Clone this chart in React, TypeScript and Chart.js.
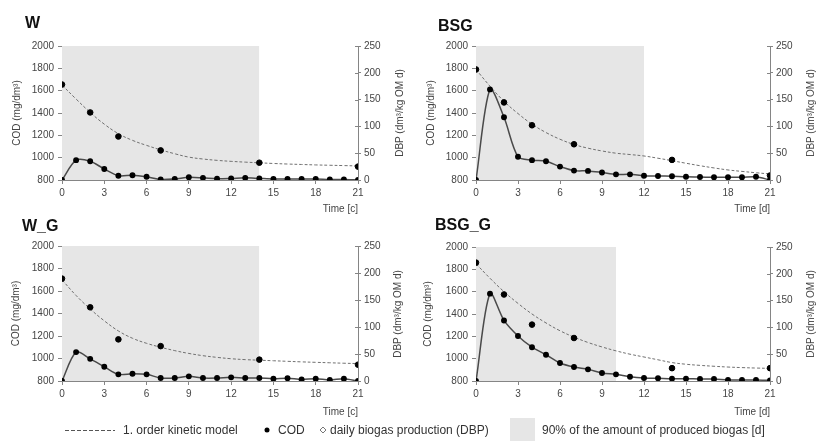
import React, { useEffect, useRef } from 'react';
import { Chart, registerables } from 'chart.js';

Chart.register(...registerables);
Chart.defaults.font.family = "'Liberation Sans', Arial, sans-serif";

// ---- data ----
const DAYS = [0, 1, 2, 3, 4, 5, 6, 7, 8, 9, 10, 11, 12, 13, 14, 15, 16, 17, 18, 19, 20, 21];
const COD_DAYS = [0, 2, 4, 7, 14, 21];
const X_TICKS = [0, 3, 6, 9, 12, 15, 18, 21];
const COD_TICKS = [800, 1000, 1200, 1400, 1600, 1800, 2000];
const DBP_TICKS = [0, 50, 100, 150, 200, 250];

const W_COD = [1655, 1405, 1190, 1065, 955, 920];
const W_MODEL = [1650, 1525, 1405, 1300, 1215, 1155, 1110, 1070, 1035, 1005, 988, 976, 967, 960, 954, 948, 943, 939, 935, 932, 929, 926];
const W_DBP = [0, 37, 35, 20.5, 8, 9, 6, 1, 2, 5, 4, 2.5, 3, 4, 3, 2, 2, 2, 2, 1, 1, 0];
const W_SHADE = 14;

const BSG_COD = [1790, 1495, 1290, 1120, 980, 840];
const BSG_MODEL = [1790, 1640, 1505, 1395, 1300, 1225, 1165, 1118, 1085, 1060, 1040, 1028, 1015, 995, 973, 950, 928, 908, 890, 877, 865, 854];
const BSG_DBP = [0, 169, 117, 43.5, 37, 35, 25, 17.5, 17, 14, 10.5, 10.5, 8, 7.5, 7, 6, 5.6, 5, 5, 5, 6, 0];
const BSG_SHADE = 12;

const WG_COD = [1710, 1455, 1170, 1110, 990, 945];
const WG_MODEL = [1700, 1560, 1440, 1335, 1245, 1180, 1135, 1100, 1070, 1045, 1025, 1010, 998, 990, 985, 980, 975, 970, 966, 962, 958, 955];
const WG_DBP = [0, 53.5, 41, 26.5, 12.3, 13.5, 12.3, 5.5, 5.5, 8.6, 5.5, 5.5, 6.8, 5.5, 5.5, 4.3, 5, 3, 4.3, 2, 4.3, 0];
const WG_SHADE = 14;

const BSGG_COD = [1860, 1575, 1305, 1185, 915, 915];
const BSGG_MODEL = [1850, 1720, 1600, 1495, 1400, 1320, 1250, 1193, 1145, 1105, 1070, 1040, 1015, 990, 965, 950, 940, 932, 925, 920, 916, 913];
const BSGG_DBP = [0, 163, 113, 84, 63, 49, 33.5, 26, 21.7, 15, 12.4, 8, 5.6, 5, 4.3, 4.3, 3.7, 3.7, 1.9, 1.9, 1.9, 1.2];
const BSGG_SHADE = 10;

// ---- layout ----
const PANELS = [
  { title: 'W', xTitle: 'Time [c]', cod: W_COD, model: W_MODEL, dbp: W_DBP, shade: W_SHADE,
    cl: 0, ct: 0, cw: 408, ch: 220, aL: 62, aR: 358, aT: 46, aB: 180, leftTitle: 17, rightTitle: 400, titleX: 25, titleY: 14, xTitlePad: 5 },
  { title: 'BSG', xTitle: 'Time [d]', cod: BSG_COD, model: BSG_MODEL, dbp: BSG_DBP, shade: BSG_SHADE,
    cl: 408, ct: 0, cw: 408, ch: 220, aL: 476, aR: 770, aT: 46, aB: 180, leftTitle: 23, rightTitle: 811, titleX: 438, titleY: 17, xTitlePad: 5 },
  { title: 'W_G', xTitle: 'Time [c]', cod: WG_COD, model: WG_MODEL, dbp: WG_DBP, shade: WG_SHADE,
    cl: 0, ct: 200, cw: 408, ch: 222, aL: 62, aR: 358, aT: 246, aB: 381, leftTitle: 16, rightTitle: 398, titleX: 22, titleY: 217, xTitlePad: 4 },
  { title: 'BSG_G', xTitle: 'Time [d]', cod: BSGG_COD, model: BSGG_MODEL, dbp: BSGG_DBP, shade: BSGG_SHADE,
    cl: 408, ct: 200, cw: 408, ch: 222, aL: 476, aR: 770, aT: 247, aB: 381, leftTitle: 20, rightTitle: 811, titleX: 435, titleY: 216, xTitlePad: 4 },
];

const AXIS = '#858585';
const TEXT = '#454545';
const SHADE = '#e6e6e6';
const plain = (v: any) => String(v);

const crossTicks = {
  id: 'crossTicks',
  afterDraw(chart: any) {
    const s = chart.scales.y1;
    const ctx = chart.ctx;
    ctx.save();
    ctx.strokeStyle = AXIS;
    ctx.lineWidth = 1;
    s.ticks.forEach((t: any) => {
      const y = Math.round(s.getPixelForValue(t.value)) + 0.5;
      ctx.beginPath();
      ctx.moveTo(s.left, y);
      ctx.lineTo(s.left - 3, y);
      ctx.stroke();
    });
    ctx.restore();
  },
};

function Panel({ p }: { p: any }) {
  const ref = useRef<HTMLCanvasElement>(null);
  useEffect(() => {
    const tickFont = { size: 10 };
    const chart = new Chart(ref.current as HTMLCanvasElement, {
      type: 'line',
      data: {
        datasets: [
          {
            label: 'shade',
            data: [{ x: 0, y: COD_TICKS[COD_TICKS.length - 1] }, { x: p.shade, y: COD_TICKS[COD_TICKS.length - 1] }],
            yAxisID: 'y', fill: 'start', backgroundColor: SHADE, borderWidth: 0, pointRadius: 0, order: 10,
          },
          {
            label: 'model',
            data: DAYS.map((d, i) => ({ x: d, y: p.model[i] })),
            yAxisID: 'y', borderColor: '#707070', borderDash: [3, 2], borderWidth: 1, pointRadius: 0, tension: 0.4, fill: false, order: 3,
          },
          {
            label: 'COD',
            data: COD_DAYS.map((d, i) => ({ x: d, y: p.cod[i] })),
            yAxisID: 'y', showLine: false, pointRadius: 2.8, pointBackgroundColor: '#000', pointBorderColor: '#000', order: 1,
          },
          {
            label: 'DBP',
            data: DAYS.map((d, i) => ({ x: d, y: p.dbp[i] })),
            yAxisID: 'y1', borderColor: '#4a4a4a', borderWidth: 1.5, tension: 0.3, pointRadius: 2.2,
            pointBackgroundColor: '#000', pointBorderColor: '#000', fill: false, order: 2,
          },
        ],
      },
      options: {
        responsive: false,
        animation: false,
        events: [],
        layout: { padding: { top: p.aT - p.ct, left: 0, right: 0, bottom: 0 } },
        plugins: { legend: { display: false }, tooltip: { enabled: false } },
        scales: {
          x: {
            type: 'linear', min: 0, max: 21,
            afterBuildTicks: (s: any) => { s.ticks = X_TICKS.map((v) => ({ value: v })); },
            ticks: { color: TEXT, font: tickFont, padding: 3, maxRotation: 0, callback: plain },
            grid: { drawOnChartArea: false, tickLength: 4, color: AXIS },
            border: { color: AXIS, width: 1 },
            title: { display: true, text: p.xTitle, align: 'end', color: TEXT, font: { size: 10 }, padding: { top: 0, bottom: p.xTitlePad } },
            afterFit: (s: any) => { s.height = p.ch - (p.aB - p.ct); },
          },
          y: {
            position: 'left', min: 800, max: 2000,
            afterBuildTicks: (s: any) => { s.ticks = COD_TICKS.map((v) => ({ value: v })); },
            ticks: { color: TEXT, font: tickFont, padding: 4, callback: plain },
            grid: { drawOnChartArea: false, tickLength: 4, color: AXIS },
            border: { color: AXIS, width: 1 },
            title: { display: true, text: 'COD (mg/dm³)', color: TEXT, font: { size: 10 }, padding: { top: p.leftTitle - 6, bottom: 0 } },
            afterFit: (s: any) => { s.width = p.aL - p.cl; },
          },
          y1: {
            position: 'right', min: 0, max: 250,
            afterBuildTicks: (s: any) => { s.ticks = DBP_TICKS.map((v) => ({ value: v })); },
            ticks: { color: TEXT, font: tickFont, padding: 3, callback: plain },
            grid: { drawOnChartArea: false, tickLength: 3, color: AXIS },
            border: { color: AXIS, width: 1 },
            afterFit: (s: any) => { s.width = p.cl + p.cw - p.aR; },
          },
        },
      } as any,
      plugins: [crossTicks],
    });
    return () => chart.destroy();
  }, []);
  return (
    <>
      <canvas ref={ref} width={p.cw} height={p.ch}
        style={{ position: 'absolute', left: p.cl, top: p.ct, width: p.cw, height: p.ch }} />
      <div style={{ position: 'absolute', left: p.titleX, top: p.titleY, font: "bold 16px 'Liberation Sans', Arial, sans-serif", color: '#111', lineHeight: '18px' }}>{p.title}</div>
      <div style={{
        position: 'absolute', left: p.rightTitle - 60, top: (p.aT + p.aB) / 2 - 6, width: 120, height: 12,
        textAlign: 'center', font: "10px 'Liberation Sans', Arial, sans-serif", lineHeight: '12px', color: TEXT,
        transform: 'rotate(-90deg)', transformOrigin: '60px 6px', whiteSpace: 'nowrap',
      }}>DBP (dm³/kg OM d)</div>
    </>
  );
}

const legendText = { position: 'absolute' as const, top: 423, font: "12px 'Liberation Sans', Arial, sans-serif", lineHeight: '14px', color: '#333', whiteSpace: 'nowrap' as const };

export default function App() {
  return (
    <div style={{ position: 'fixed', left: 0, top: 0, width: 816, height: 441, background: '#fff', overflow: 'hidden' }}>
      {PANELS.map((p) => <Panel key={p.title} p={p} />)}
      <svg style={{ position: 'absolute', left: 0, top: 415 }} width={816} height={26}>
        <line x1={65} y1={15.5} x2={115} y2={15.5} stroke="#555" strokeWidth={1} strokeDasharray="4 2" />
        <circle cx={267} cy={15} r={2.5} fill="#000" />
        <polygon points="323,12 326,15 323,18 320,15" fill="none" stroke="#666" strokeWidth={0.9} />
        <rect x={510} y={3} width={25} height={23} fill={SHADE} />
      </svg>
      <div style={{ ...legendText, left: 123 }}>1. order kinetic model</div>
      <div style={{ ...legendText, left: 278 }}>COD</div>
      <div style={{ ...legendText, left: 330 }}>daily biogas production (DBP)</div>
      <div style={{ ...legendText, left: 542 }}>90% of the amount of produced biogas [d]</div>
    </div>
  );
}
